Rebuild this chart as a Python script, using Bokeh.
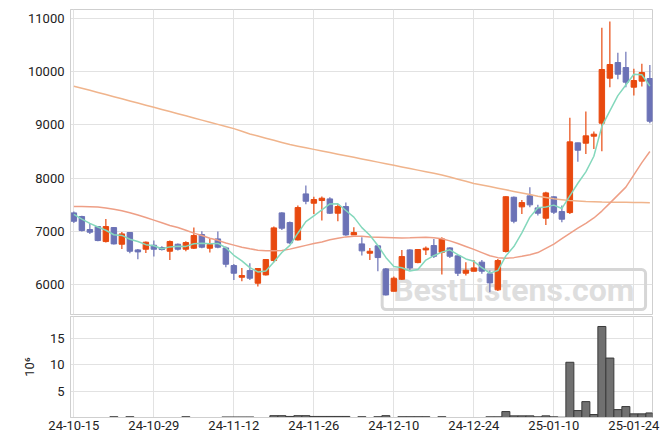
from bokeh.plotting import figure
from bokeh.layouts import column
from bokeh.models import FixedTicker, Range1d, Label, ColumnDataSource
from bokeh.embed import file_html
from bokeh.resources import INLINE

# ---- data ----
tick_idx = [0, 10, 20, 30, 40, 50, 60, 70]
tick_labels = ["24-10-15", "24-10-29", "24-11-12", "24-11-26",
               "24-12-10", "24-12-24", "25-01-10", "25-01-24"]

opens = [7346, 7277, 7033, 7089, 6807, 7070, 6757, 6977, 6650, 6663,
         6738, 6694, 6625, 6757, 6663, 6682, 6939, 6682, 6857, 6688,
         6356, 6136, 6262, 6024, 6180, 6450, 7346, 7164, 6838, 7703,
         7528, 7578, 7609, 7340, 7465, 6932, 6763, 6588, 6726, 6293,
         5873, 6099, 6650, 6412, 6650, 6732, 6606, 6688, 6538, 6212,
         6249, 6420, 6200, 5899, 6620, 7640, 7459, 7666, 7440, 7246,
         7647, 7371, 7352, 8662, 8656, 8788, 9032, 9878, 10172, 10078,
         9709, 9822, 9872]
highs = [7371, 7290, 7152, 7100, 7233, 7083, 6989, 6980, 6669, 6807,
         6826, 6720, 6826, 6770, 6813, 7070, 7001, 6857, 6995, 6713,
         6387, 6312, 6400, 6300, 6481, 7089, 7359, 7183, 7484, 7860,
         7647, 7653, 7641, 7515, 7540, 7076, 6889, 6688, 6738, 6312,
         6149, 6650, 6663, 6663, 6713, 6857, 6889, 6701, 6544, 6418,
         6462, 6460, 6262, 6480, 7660, 7653, 7590, 7829, 7497, 7741,
         7660, 7484, 9132, 8662, 9251, 8875, 10824, 10943, 10354, 10373,
         10053, 10147, 10128]
lows = [7158, 6995, 6951, 6813, 6788, 6751, 6669, 6588, 6475, 6594,
        6525, 6638, 6462, 6638, 6625, 6669, 6682, 6600, 6682, 6324,
        6086, 6061, 6086, 5961, 6168, 6419, 7026, 6763, 6826, 7509,
        7327, 7202, 7327, 7189, 6914, 6932, 6544, 6462, 6249, 5792,
        5873, 6086, 6274, 6400, 6556, 6500, 6187, 6500, 6162, 6168,
        6249, 6200, 5855, 5880, 6600, 7152, 7327, 7453, 7296, 7120,
        7327, 7170, 7327, 8305, 8455, 8549, 8505, 9709, 9859, 9709,
        9552, 9721, 9032]
closes = [7189, 7014, 6983, 6826, 7089, 6763, 6951, 6625, 6613, 6795,
          6663, 6657, 6807, 6663, 6788, 6920, 6701, 6751, 6701, 6381,
          6212, 6168, 6118, 6300, 6469, 7064, 7058, 6782, 7446, 7565,
          7597, 7622, 7340, 7465, 6932, 6976, 6632, 6625, 6506, 5804,
          6118, 6525, 6312, 6657, 6682, 6531, 6857, 6531, 6212, 6268,
          6312, 6250, 6030, 6450, 7650, 7189, 7540, 7497, 7340, 7722,
          7359, 7227, 8681, 8524, 8794, 8825, 10041, 10135, 9953, 9803,
          9834, 9984, 9069]
volume_m = [0, 0, 0, 0, 0, 0.15, 0, 0.15, 0, 0,
            0, 0, 0, 0, 0.15, 0, 0, 0, 0, 0.1,
            0.1, 0.1, 0.1, 0, 0, 0.35, 0.35, 0.2, 0.35, 0.35,
            0.2, 0.2, 0.2, 0.2, 0.2, 0, 0.15, 0, 0.15, 0.35,
            0, 0.15, 0.15, 0.15, 0.15, 0, 0.15, 0, 0, 0,
            0, 0, 0.13, 0.13, 1.13, 0.31, 0.31, 0.31, 0.13, 0.31,
            0.13, 0.05, 10.5, 1.32, 3.02, 0.57, 17.3, 11.3, 1.5, 2.08,
            0.69, 0.69, 0.87]
ma5 = [7320, 7230, 7150, 7080, 7020, 6935, 6922, 6851, 6808, 6749,
       6729, 6671, 6707, 6717, 6716, 6767, 6776, 6765, 6772, 6691,
       6549, 6443, 6316, 6236, 6253, 6424, 6602, 6735, 6964, 7183,
       7290, 7402, 7514, 7518, 7391, 7267, 7069, 6926, 6734, 6509,
       6337, 6316, 6253, 6283, 6459, 6541, 6608, 6652, 6563, 6480,
       6436, 6315, 6214, 6262, 6538, 6714, 6972, 7265, 7443, 7458,
       7492, 7429, 7666, 7903, 8117, 8410, 8973, 9264, 9550, 9751,
       9953, 9942, 9729]
ma20 = [7466, 7465, 7462, 7455, 7440, 7415, 7385, 7350, 7305, 7260,
        7210, 7160, 7110, 7070, 7020, 6965, 6920, 6870, 6830, 6780,
        6740, 6700, 6670, 6645, 6635, 6635, 6640, 6665, 6700, 6735,
        6770, 6800, 6840, 6870, 6895, 6905, 6905, 6895, 6890, 6885,
        6880, 6875, 6878, 6885, 6888, 6880, 6860, 6820, 6770, 6715,
        6660, 6600, 6540, 6505, 6495, 6505, 6530, 6560, 6600, 6680,
        6760, 6860, 6960, 7060, 7150, 7250, 7380, 7530, 7680, 7830,
        8060, 8290, 8500]
ma60 = [9725, 9690, 9650, 9610, 9570, 9530, 9490, 9450, 9410, 9370,
        9330, 9290, 9250, 9210, 9170, 9130, 9090, 9050, 9010, 8970,
        8930, 8880, 8830, 8790, 8750, 8710, 8670, 8630, 8600, 8570,
        8540, 8510, 8480, 8450, 8420, 8390, 8360, 8330, 8300, 8270,
        8240, 8210, 8180, 8150, 8120, 8090, 8060, 8020, 7980, 7940,
        7900, 7870, 7840, 7810, 7780, 7750, 7720, 7690, 7660, 7635,
        7610, 7595, 7580, 7570, 7560, 7555, 7550, 7548, 7546, 7544,
        7542, 7540, 7538]

UP = "#e8490f"
DOWN = "#6b72b6"
GRID = "#e2e2e2"
FRAME = "#cfcfcf"
FONT = "Roboto"

idx = list(range(len(closes)))
colors = [UP if c >= o else DOWN for o, c in zip(opens, closes)]
src = ColumnDataSource(dict(
    x=idx, o=opens, h=highs, l=lows, c=closes,
    top=[max(o, c) for o, c in zip(opens, closes)],
    bot=[min(o, c) for o, c in zip(opens, closes)],
    color=colors, ma5=ma5, ma20=ma20, ma60=ma60))

xr = Range1d(-0.42, 72.33)


def style(fig):
    fig.outline_line_color = FRAME
    fig.grid.grid_line_color = GRID
    fig.axis.axis_line_color = FRAME
    fig.axis.major_tick_line_color = None
    fig.axis.minor_tick_line_color = None
    fig.axis.major_tick_out = 0
    fig.axis.major_tick_in = 0
    fig.axis.minor_tick_out = 0
    fig.axis.minor_tick_in = 0
    fig.axis.major_label_text_font = FONT
    fig.axis.major_label_text_font_size = "13px"
    fig.axis.major_label_text_color = "#222222"
    fig.xaxis.ticker = FixedTicker(ticks=tick_idx)
    fig.xgrid.ticker = FixedTicker(ticks=tick_idx)
    fig.background_fill_color = "white"
    fig.border_fill_color = "white"


p = figure(width=671, height=316, x_range=xr, y_range=Range1d(5436, 11169),
           output_backend="svg", toolbar_location=None,
           min_border_left=70, min_border_right=19, min_border_top=9,
           min_border_bottom=2)
style(p)
p.xaxis.visible = False
p.yaxis.ticker = FixedTicker(ticks=[6000, 7000, 8000, 9000, 10000, 11000])
p.yaxis.major_label_standoff = 6

wm = Label(x=55, y=5905, text="BestListens.com", text_align="center",
           text_baseline="middle", text_font=FONT, text_font_style="bold",
           text_font_size="32px", text_color="#dedede",
           border_line_color="#d6d6d6", border_line_width=3,
           padding=dict(left=11, right=11, top=1, bottom=1),
           border_radius=4, level="underlay")
p.add_layout(wm)

p.segment(x0="x", y0="l", x1="x", y1="h", color="color", line_width=1.2,
          source=src)
p.vbar(x="x", width=0.68, top="top", bottom="bot", fill_color="color",
       line_color="color", source=src)
p.line("x", "ma60", source=src, line_color="#f0b48c", line_width=1.5)
p.line("x", "ma20", source=src, line_color="#ee9f86", line_width=1.5)
p.line("x", "ma5", source=src, line_color="#84d8bc", line_width=1.5)

v_idx = [i for i, v in enumerate(volume_m) if v > 0]
v_val = [volume_m[i] for i in v_idx]
q = figure(width=671, height=128, x_range=xr, y_range=Range1d(0, 19.2),
           output_backend="svg", toolbar_location=None,
           min_border_left=70, min_border_right=19, min_border_top=0,
           min_border_bottom=27)
style(q)
q.yaxis.ticker = FixedTicker(ticks=[5, 10, 15])
q.yaxis.major_label_standoff = 6
q.xaxis.major_label_overrides = {t: s for t, s in zip(tick_idx, tick_labels)}
q.xaxis.major_label_standoff = 3
q.yaxis.axis_label = "10\u2076"
q.yaxis.axis_label_text_font = FONT
q.yaxis.axis_label_text_font_style = "normal"
q.yaxis.axis_label_text_font_size = "13px"
q.yaxis.axis_label_text_color = "#222222"
q.yaxis.axis_label_standoff = 10
q.vbar(x=v_idx, top=v_val, bottom=0, width=1.0, fill_color="#707070",
       line_color="#3a3a3a", line_width=1)

layout = column(p, q, spacing=0)
open("out.html", "w").write(file_html(layout, INLINE))
